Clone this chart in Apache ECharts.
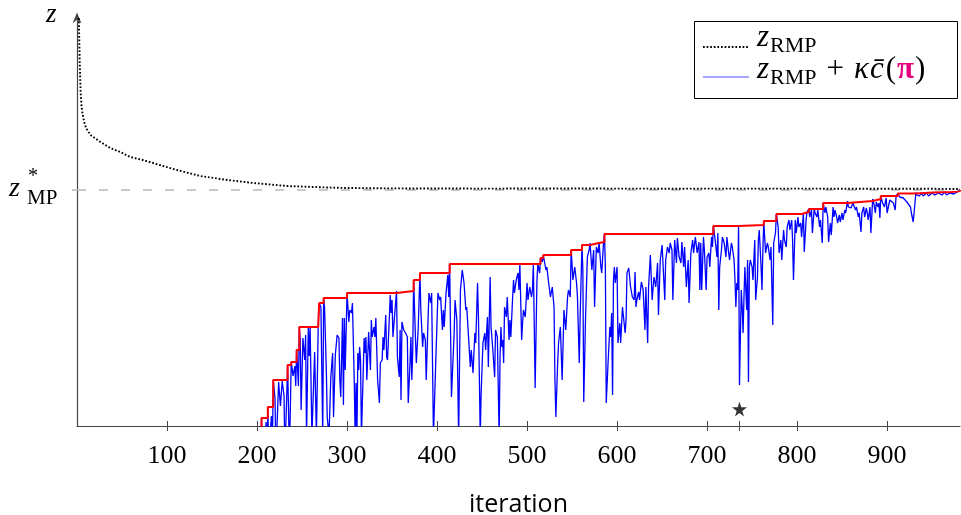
<!DOCTYPE html>
<html><head><meta charset="utf-8">
<script src="https://cdn.jsdelivr.net/npm/echarts@6/dist/echarts.min.js"></script>
<style>html,body{margin:0;padding:0;background:#fff}#c{width:961px;height:515px}</style>
</head><body><div id="c"></div>
<script>
// ---- data (iteration, objective value in chart units) ----
const xTickLabels = [100, 200, 300, 400, 500, 600, 700, 800, 900];
const xTickMarks = [100, 200, 300, 400, 500, 600, 700, 736, 800, 900];
const zStar = 236.5;
const starPoint = [[736, 17]];

const rmpObjective = [[2,408],[3,365],[4,335],[5,320],[6,313],[8,304],[10,298],[15,291],[26,284],[37,278],[48,274],[59,269],[73,266],[92,261],[111,256],[137,250],[167,246],[196,243],[233,240],[278,238.5],[300,238],[350,237.6],[450,237.4],[550,237.5],[650,237.3],[750,237.4],[850,237.3],[950,237.2],[981,237]];

const lagrangianBound = [
[200,-40],[204,-30],[205,8],[206,-30],[209,-30],[210,4],[211,-30],[212,19],[213,-30],[215,-30],[216,10],[217,-30],[218,46],[220,28],[221,-30],[223,-30],[224,44],[226,20],[228,45],[230,30],[231,-30],[233,-30],[234,61],[236,-30],[238,64],[240,50],[242,60],[243,40],[244,76],[246,40],[247,99],
[248,86],[249,16],[251,88],[253,66],[254,91],[255,-10],[257,99],[258,70],[259,98],[261,-10],[264,74],[266,-10],[268,101],[269,123],[271,119],[272,120],[273,-10],[274,128],[275,119],[277,56],[278,9],[280,-10],[282,49],[284,73],[285,9],[287,71],[289,91],[291,88],[292,46],[293,29],[295,108],[296,21],[297,108],[298,56],[300,133],[302,104],[303,116],[305,113],[306,123],[308,46],[309,-10],[310,43],[311,-10],[312,73],[313,56],[314,79],[315,66],[316,-10],[318,-10],[319,88],[320,73],[321,89],[322,46],[324,94],[326,56],[327,106],[328,89],[330,99],[331,89],[332,108],[334,46],[336,23],[337,63],[339,66],[340,89],[341,76],[343,111],[344,69],[345,66],[347,108],[348,131],[349,113],[350,126],[351,89],[353,89],[355,135],[356,69],[358,49],[359,96],
[360,26],[361,104],[363,96],[365,93],[367,89],[368,23],[370,63],[371,89],[372,46],[373,76],[374,146],[376,89],[377,63],[379,96],[381,153],[382,116],[384,79],[385,93],[387,86],[388,46],[390,106],[391,133],[393,123],[394,133],[396,-10],[397,-10],[399,76],[401,133],[403,126],[404,129],[406,96],[407,116],[408,99],[410,133],[412,151],[413,129],[414,162],[416,29],[417,29],[419,93],[420,126],[422,106],[424,-10],[426,136],[428,156],[430,143],[432,116],[433,119],[435,89],[437,59],[438,76],[440,53],[442,93],[443,83],[445,143],[446,109],[448,-10],[449,33],[451,83],[453,93],[454,76],[456,109],[457,59],[459,149],[460,99],[462,76],[464,49],[465,96],[467,89],[469,-10],[470,69],
[471,99],[472,79],[473,86],[474,63],[475,119],[477,109],[478,129],[480,86],[481,106],[482,89],[484,129],[485,146],[486,133],[488,146],[490,153],[491,136],[492,162],[494,86],[495,103],[496,116],[498,109],[500,143],[501,126],[503,139],[505,129],[506,136],[507,162],[509,38],[511,146],[512,162],[514,153],[515,168],[517,164],[518,171],[521,156],[522,159],[524,143],[526,129],[528,139],[530,119],[531,46],[532,9],[534,63],[535,83],[537,99],[539,46],[541,116],[543,96],[545,129],[546,136],[548,129],[549,176],[551,146],[553,159],[555,143],[556,129],[558,63],[559,109],[561,181],[562,156],[563,24],[565,109],[567,169],[569,176],[570,183],[572,156],[574,176],[575,119],[577,179],[579,173],[580,184],
[582,159],[583,153],[585,184],[586,192],[587,159],[588,23],[590,63],[592,99],[593,89],[594,113],[595,31],[596,146],[597,159],[598,143],[600,159],[601,83],[603,103],[604,83],[606,119],[608,118],[609,93],[610,106],[611,153],[613,158],[615,139],[617,129],[619,126],[620,154],[621,119],[622,126],[624,134],[625,126],[627,144],[629,136],[631,96],[632,139],[634,83],[635,139],[637,171],[639,126],[641,149],[643,139],[645,163],[646,111],[648,166],[650,181],[651,163],[653,126],[654,166],[656,179],[658,173],[659,183],[661,176],[662,126],[664,186],[666,163],[667,188],[669,169],[671,163],[672,184],[674,159],[675,179],[677,139],[679,166],[680,123],[682,173],[684,186],[685,173],[687,189],[689,173],[691,184],[692,136],
[693,183],[694,136],[696,189],[697,176],[699,136],[700,169],[702,173],[703,159],[705,189],[706,179],[707,200],[709,186],[711,169],[712,193],[713,116],[714,159],[716,176],[717,189],[719,183],[721,169],[722,189],[724,173],[725,166],[727,183],[728,179],[730,166],[731,146],[732,119],[733,143],[734,136],[735,201],[736,41],[738,136],[739,119],[740,93],[741,129],[742,159],[744,116],[745,166],[746,44],[747,159],[748,166],[750,159],[751,146],[753,186],[754,126],[756,149],[757,186],[758,196],[760,159],[761,136],[762,176],[763,205],[765,173],[767,183],[768,179],[770,166],[771,179],[773,101],[774,183],[776,193],[777,212],[779,199],[780,173],[782,186],[783,166],[785,196],[786,186],[788,179],[789,199],[791,206],[792,196],[794,206],[795,186],[796,146],[798,206],[799,193],[801,209],[802,199],
[804,203],[805,189],[807,213],[808,174],[810,206],[811,214],[813,217],[814,209],[816,216],[817,193],[819,217],[820,213],[822,209],[823,216],[825,199],[826,206],[828,183],[829,223],[831,213],[832,219],[834,209],[835,184],[837,203],[838,191],[840,219],[841,209],[842,216],[844,209],[845,203],[847,211],[848,204],[850,213],[851,206],[853,216],[854,213],[856,225],[857,219],[859,221],[860,218],[862,223],[863,221],[865,216],[866,219],[868,209],[869,213],[871,194],[872,213],[874,219],[875,209],[877,218],[878,213],[879,206],[881,219],[882,193],[884,227],[885,224],[887,213],[888,224],[890,219],[891,223],
[892,208],[893,230],[895,223],[897,219],[899,228],[900,213],[903,226],[905,228],[907,223],[909,216],[910,230],[912,232.5],[914,229],[916,230],[918,228],[922,224],[926,219],[927,213],[929,204],[931,223],[932,233.5],[933,231],[935,232],[936,230],[938,233],[940,230],[942,232],[944,233],[946,230],[948,231],[950,233],[951,234],[953,231],[955,229],[957,233],[959,231],[961,231],[963,233],[964,234],[966,231],[968,232],[970,233],[972,235],[974,232],[976,232],[978,234],[979,235],[981,236]
];

const bestBound = [[205,-20],[205,8],[212,8],[212,19],[218,19],[218,46],[234,46],[234,61],[238,61],[238,64],[244,64],[244,76],[247,76],[247,99],[268,99],[268,101],[269,101],[269,123],[274,123],[274,128],[300,128],[300,133],[355,133],[355,135],[374,135],[374,146],[381,146],[381,153],[414,153],[414,162],[515,162],[515,168],[518,168],[518,171],[549,171],[549,176],[561,176],[561,181],[570,181],[570,183],[580,183],[580,184],[586,184],[586,192],[707,192],[707,200],[735,200],[735,201],[763,201],[763,205],[777,205],[777,212],[805,212],[805,214],[813,214],[813,217],[829,217],[829,223],[856,223],[856,225],[884,225],[884,227],[893,227],[893,230],[912,230],[912,232.5],[932,232.5],[932,233.5],[951,233.5],[951,234],[972,234],[972,235],[981,235],[981,236]];

// ---- chart ----
const chart = echarts.init(document.getElementById('c'), null, {renderer: 'canvas'});
const SERIF = '"Liberation Serif", "DejaVu Serif", serif';
const SANS = '"Open Sans", "DejaVu Sans", sans-serif';
const arrowUp = 'path://M5,0 L10,12 L5,8 L0,12 Z';
const starPath = 'path://M50,0 L61,35 L98,35 L68,57 L79,91 L50,70 L21,91 L32,57 L2,35 L39,35 Z';
const axisColor = '#444';
const mathRich = {
  z: {fontFamily: SERIF, fontStyle: 'italic', fontSize: 31, color: '#000', padding: [0, 1, 4, 0], verticalAlign: 'bottom'},
  s: {fontFamily: SERIF, fontSize: 22, color: '#000', verticalAlign: 'bottom'},
  pl: {fontFamily: SERIF, fontSize: 31, color: '#000', padding: [0, 10, 4, 10], verticalAlign: 'bottom'},
  k: {fontFamily: SERIF, fontStyle: 'italic', fontSize: 31, color: '#000', padding: [0, 1, 4, 0], verticalAlign: 'bottom'},
  c: {fontFamily: SERIF, fontStyle: 'italic', fontSize: 31, color: '#000', padding: [0, 2, 4, 0], verticalAlign: 'bottom'},
  o: {fontFamily: SERIF, fontSize: 31, color: '#000', padding: [0, 1, 4, 0], verticalAlign: 'bottom'},
  pi: {fontFamily: SERIF, fontWeight: 'bold', fontSize: 31, color: '#e6007e', padding: [0, 1, 4, 0], verticalAlign: 'bottom'}
};
function label(text, left, top, style) {
  return {text: text, left: left, top: top, padding: 0, z: 12,
    textStyle: Object.assign({fontFamily: SERIF, color: '#000', fontWeight: 'normal'}, style)};
}

chart.setOption({
  animation: false,
  backgroundColor: '#fff',
  grid: {left: 77, right: 1, top: 18, bottom: 89, containLabel: false, outerBoundsMode: 'none'},
  title: [
    label('{z|z}{s|RMP}', 757, 22, {rich: mathRich}),
    label('{z|z}{s|RMP}{pl|+}{k|κ}{c|c̄}{o|(}{pi|π}{o|)}', 757, 54, {rich: mathRich}),
    label('z', 46, 1, {fontStyle: 'italic', fontSize: 27}),
    label('z', 9, 175, {fontStyle: 'italic', fontSize: 28}),
    label('*', 28, 167, {fontSize: 20}),
    label('MP', 27, 188, {fontSize: 21})
  ],
  xAxis: [{
    type: 'value', min: 0, max: 981, position: 'bottom',
    axisLine: {show: true, onZero: false, lineStyle: {color: axisColor, width: 1.2}},
    axisTick: {show: true, customValues: xTickMarks, length: 5, lineStyle: {color: axisColor, width: 1}},
    axisLabel: {customValues: xTickLabels, fontFamily: SERIF, fontSize: 26, color: '#000', margin: 17},
    splitLine: {show: false},
    name: 'iteration', nameLocation: 'middle', nameGap: 66,
    nameTextStyle: {fontFamily: SANS, fontSize: 25, color: '#000'}
  }, {
    type: 'value', min: 0, max: 981, position: 'top', offset: -408,
    axisLine: {show: false},
    axisTick: {show: true, customValues: xTickMarks, length: 5, lineStyle: {color: axisColor, width: 1}},
    axisLabel: {show: false}, splitLine: {show: false}
  }],
  yAxis: {
    type: 'value', min: 0, max: 408,
    axisLine: {show: true, onZero: false, symbol: ['none', arrowUp], symbolSize: [9, 11], lineStyle: {color: axisColor, width: 1.2}},
    axisTick: {show: true, customValues: [zStar], length: 5, lineStyle: {color: '#bbb', width: 1.5}},
    axisLabel: {show: false}, splitLine: {show: false}
  },
  series: [{
    type: 'line', name: 'zRMP', data: rmpObjective, showSymbol: false, symbol: 'none', z: 4,
    lineStyle: {color: '#000', width: 1.9, type: [1.7, 1.9], cap: 'butt'},
    markLine: {
      silent: true, symbol: ['none', 'none'], label: {show: false}, z: 1,
      lineStyle: {color: '#b8b8b8', type: [9, 13], width: 1.5},
      data: [[{coord: [0, zStar]}, {coord: [981, zStar]}]]
    }
  }, {
    type: 'line', name: 'bound', data: lagrangianBound, showSymbol: false, symbol: 'none', z: 2,
    lineStyle: {color: '#0000ff', width: 1.3}
  }, {
    type: 'line', name: 'best', data: bestBound, showSymbol: false, symbol: 'none', z: 3,
    lineStyle: {color: '#ff0000', width: 2}
  }, {
    type: 'scatter', data: starPoint, symbol: starPath, symbolSize: 15, z: 5,
    itemStyle: {color: '#000'}
  }],
  graphic: [
    {type: 'rect', z: 10, shape: {x: 694.5, y: 21.5, width: 263, height: 77}, style: {fill: '#fff', stroke: '#000', lineWidth: 1}},
    {type: 'line', z: 11, shape: {x1: 703, y1: 47, x2: 748, y2: 47}, style: {stroke: '#000', lineWidth: 1.9, lineDash: [1.7, 1.9]}},
    {type: 'line', z: 11, shape: {x1: 703, y1: 77, x2: 749, y2: 77}, style: {stroke: '#4d4dff', lineWidth: 1}}
  ]
});
</script></body></html>
